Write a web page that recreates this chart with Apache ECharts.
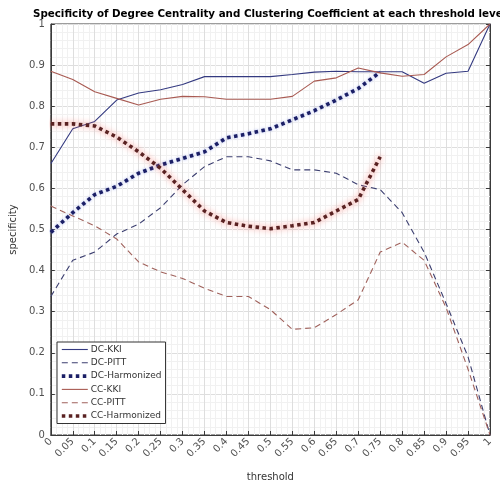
<!DOCTYPE html>
<html>
<head>
<meta charset="utf-8">
<script src="https://cdn.jsdelivr.net/npm/echarts@6/dist/echarts.min.js"></script>
<style>
html,body{margin:0;padding:0;background:#fff;}
#chart{width:500px;height:487px;}
</style>
</head>
<body>
<div id="chart"></div>
<script>
// ---- data ----
const thresholds = [0, 0.05, 0.1, 0.15, 0.2, 0.25, 0.3, 0.35, 0.4, 0.45, 0.5, 0.55, 0.6, 0.65, 0.7, 0.75, 0.8, 0.85, 0.9, 0.95, 1];
const yTicks = [0, 0.1, 0.2, 0.3, 0.4, 0.5, 0.6, 0.7, 0.8, 0.9, 1];
const dcKKI  = [0.66, 0.745, 0.763, 0.815, 0.832, 0.84, 0.853, 0.872, 0.872, 0.872, 0.872, 0.877, 0.883, 0.885, 0.884, 0.884, 0.884, 0.856, 0.88, 0.885, 1.0];
const dcPITT = [0.337, 0.425, 0.445, 0.489, 0.513, 0.553, 0.609, 0.653, 0.677, 0.677, 0.667, 0.645, 0.645, 0.637, 0.609, 0.597, 0.541, 0.445, 0.32, 0.19, 0.0];
const dcHarmonized = [0.493, 0.541, 0.585, 0.605, 0.637, 0.657, 0.673, 0.689, 0.723, 0.733, 0.745, 0.767, 0.789, 0.815, 0.843, 0.883];
const ccKKI  = [0.885, 0.865, 0.835, 0.819, 0.803, 0.817, 0.824, 0.823, 0.817, 0.817, 0.817, 0.824, 0.861, 0.869, 0.893, 0.881, 0.873, 0.877, 0.92, 0.95, 1.0];
const ccPITT = [0.557, 0.533, 0.509, 0.477, 0.421, 0.397, 0.381, 0.357, 0.337, 0.337, 0.305, 0.257, 0.261, 0.293, 0.329, 0.445, 0.469, 0.425, 0.31, 0.16, 0.0];
const ccHarmonized = [0.757, 0.757, 0.752, 0.725, 0.689, 0.649, 0.597, 0.545, 0.517, 0.508, 0.502, 0.509, 0.517, 0.545, 0.573, 0.677];
const seriesNames = ['DC-KKI', 'DC-PITT', 'DC-Harmonized', 'CC-KKI', 'CC-PITT', 'CC-Harmonized'];
const titleText = 'Specificity of Degree Centrality and Clustering Coefficient at each threshold level';

function pairs(vals) { return vals.map((v, i) => [thresholds[i], v]); }

const FONT = 'DejaVu Sans';
const axisColor = '#3a3a3a';
const labelColor = '#505050';

const styles = {
  'DC-KKI':        {color: '#343a80', width: 1.1, type: 'solid'},
  'DC-PITT':       {color: '#3c3f70', width: 1.1, type: [6, 4]},
  'DC-Harmonized': {color: '#1b1f66', width: 3.6, type: [3.5, 3.5], cap: 'butt'},
  'CC-KKI':        {color: '#a85a52', width: 1.1, type: 'solid'},
  'CC-PITT':       {color: '#a0625c', width: 1.1, type: [6, 4]},
  'CC-Harmonized': {color: '#5a2222', width: 3.6, type: [3.5, 3.5], cap: 'butt'}
};

const chart = echarts.init(document.getElementById('chart'), null, {renderer: 'canvas'});

const fmt = v => String(Math.round(v * 100) / 100);

const option = {
  backgroundColor: '#ffffff',
  animation: false,
  title: {
    text: titleText,
    left: 28, top: 4,
    textStyle: {fontFamily: FONT, fontWeight: 'bold', fontSize: 10.3, color: '#000'}
  },
  grid: {left: 44, right: 10, top: 24, bottom: 47, containLabel: false,
         show: true, borderColor: axisColor, borderWidth: 1, backgroundColor: 'transparent'},
  legend: {
    orient: 'vertical',
    left: 57, top: 342,
    data: seriesNames.map(n => ({name: n, lineStyle: Object.assign({}, styles[n])})),
    backgroundColor: '#fff',
    borderColor: '#333', borderWidth: 1,
    padding: [3, 4, 3, 3],
    itemGap: 4.3,
    itemWidth: 26, itemHeight: 8,
    itemStyle: {opacity: 0},
    textStyle: {fontFamily: FONT, fontSize: 9, color: '#333', padding: [0, 0, 0, -2]}
  },
  xAxis: [{
    type: 'value', min: 0, max: 1, interval: 0.05,
    name: 'threshold', nameLocation: 'middle', nameGap: 37,
    nameTextStyle: {fontFamily: FONT, fontSize: 10, color: '#333'},
    axisLine: {show: true, onZero: false, lineStyle: {color: axisColor, width: 1}},
    axisTick: {show: true, inside: true, length: 4, lineStyle: {color: axisColor}},
    axisLabel: {rotate: 45, fontFamily: FONT, fontSize: 10, color: labelColor, margin: 5,
                formatter: fmt, showMinLabel: true, showMaxLabel: true},
    splitLine: {show: true, lineStyle: {color: '#dedede', width: 1}},
    minorTick: {show: false, splitNumber: 4},
    minorSplitLine: {show: true, lineStyle: {color: '#f1f1f1', width: 1}}
  }],
  yAxis: [{
    type: 'value', min: 0, max: 1, interval: 0.1,
    name: 'specificity', nameLocation: 'middle', nameGap: 29,
    nameTextStyle: {fontFamily: FONT, fontSize: 10, color: '#333'},
    axisLine: {show: true, onZero: false, lineStyle: {color: axisColor, width: 1}},
    axisTick: {show: true, inside: true, length: 4, lineStyle: {color: axisColor}},
    axisLabel: {fontFamily: FONT, fontSize: 10, color: labelColor, margin: 6,
                customValues: yTicks,
                formatter: fmt, showMinLabel: true, showMaxLabel: true, hideOverlap: false},
    splitLine: {show: true, lineStyle: {color: '#dedede', width: 1}},
    minorTick: {show: false, splitNumber: 5},
    minorSplitLine: {show: true, lineStyle: {color: '#f1f1f1', width: 1}}
  }, {
    type: 'value', min: 0, max: 1, interval: 0.1, position: 'right',
    axisLine: {show: true, onZero: false, lineStyle: {color: axisColor, width: 1}},
    axisTick: {show: true, inside: true, length: 4, lineStyle: {color: axisColor}},
    axisLabel: {show: false}, splitLine: {show: false}
  }],
  series: [
    {name: 'DC-KKI', type: 'line', data: pairs(dcKKI), symbol: 'none', z: 2,
     lineStyle: styles['DC-KKI'], itemStyle: {color: styles['DC-KKI'].color}},
    {name: 'DC-PITT', type: 'line', data: pairs(dcPITT), symbol: 'none', z: 3,
     lineStyle: styles['DC-PITT'], itemStyle: {color: styles['DC-PITT'].color}},
    {name: 'DC-Harmonized', type: 'line', data: pairs(dcHarmonized), symbol: 'none', z: 4,
     lineStyle: Object.assign({shadowColor: 'rgba(110,130,230,0.6)', shadowBlur: 3}, styles['DC-Harmonized']),
     itemStyle: {color: styles['DC-Harmonized'].color}},
    {name: 'CC-KKI', type: 'line', data: pairs(ccKKI), symbol: 'none', z: 5,
     lineStyle: styles['CC-KKI'], itemStyle: {color: styles['CC-KKI'].color}},
    {name: 'CC-PITT', type: 'line', data: pairs(ccPITT), symbol: 'none', z: 6,
     lineStyle: styles['CC-PITT'], itemStyle: {color: styles['CC-PITT'].color}},
    {name: 'CC-Harmonized', type: 'line', data: pairs(ccHarmonized), symbol: 'none', z: 7,
     lineStyle: Object.assign({shadowColor: 'rgba(245,110,100,1)', shadowBlur: 6}, styles['CC-Harmonized']),
     itemStyle: {color: styles['CC-Harmonized'].color}}
  ]
};
chart.setOption(option);
</script>
</body>
</html>
